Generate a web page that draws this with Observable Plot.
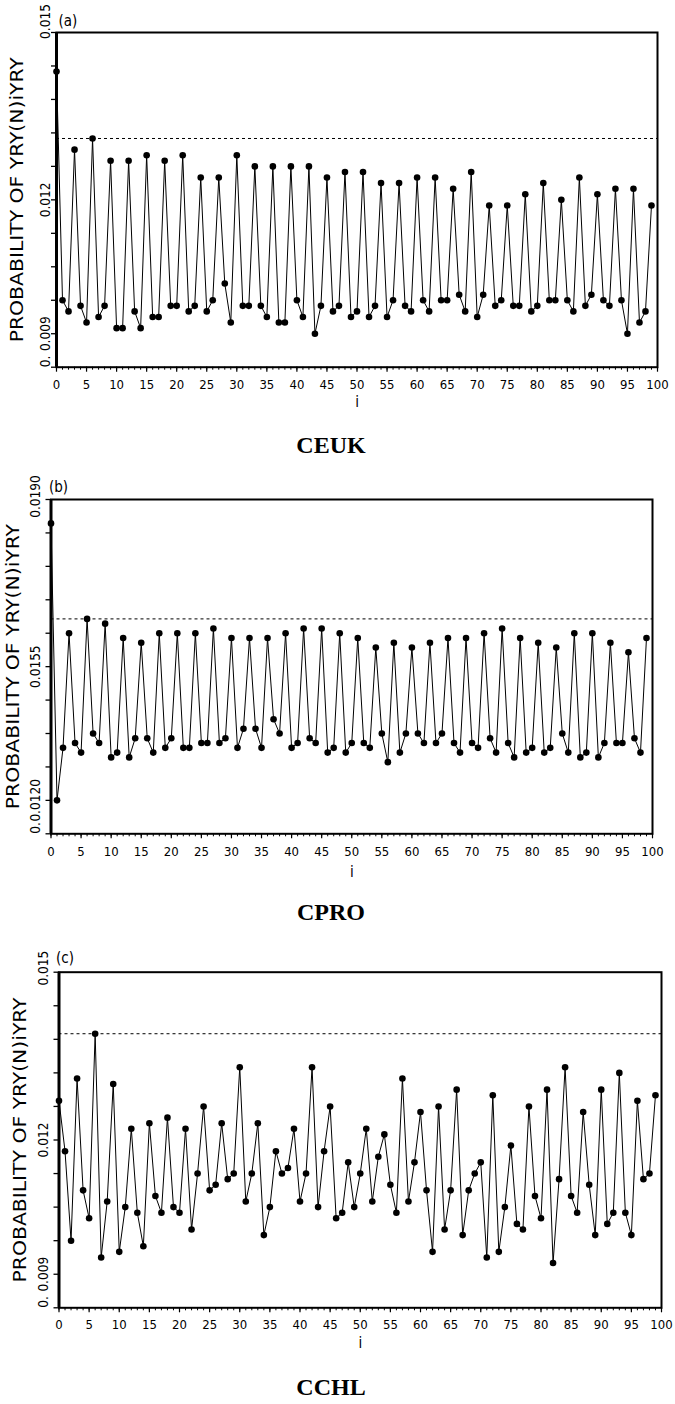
<!DOCTYPE html>
<html>
<head>
<meta charset="utf-8">
<script src="https://cdn.jsdelivr.net/npm/d3@7"></script>
<script src="https://cdn.jsdelivr.net/npm/@observablehq/plot@0.6"></script>
<style>
  html, body { margin: 0; padding: 0; background: #fff; }
  #page { position: relative; width: 675px; height: 1404px; background: #fff; overflow: hidden; }
  .panel { position: absolute; left: 0; }
  .caption { position: absolute; width: 200px; text-align: center; font-family: "Liberation Serif", "Times New Roman", serif; font-weight: bold; font-size: 24px; line-height: 24px; color: #000; }
</style>
</head>
<body>
<div id="page"></div>
<script>
// ---------------- data ----------------
const ceuk = [
  0.0143, 0.0102, 0.0100, 0.0129, 0.0101, 0.0098, 0.0131, 0.0099, 0.0101, 0.0127,
  0.0097, 0.0097, 0.0127, 0.0100, 0.0097, 0.0128, 0.0099, 0.0099, 0.0127, 0.0101,
  0.0101, 0.0128, 0.0100, 0.0101, 0.0124, 0.0100, 0.0102, 0.0124, 0.0105, 0.0098,
  0.0128, 0.0101, 0.0101, 0.0126, 0.0101, 0.0099, 0.0126, 0.0098, 0.0098, 0.0126,
  0.0102, 0.0099, 0.0126, 0.0096, 0.0101, 0.0124, 0.0100, 0.0101, 0.0125, 0.0099,
  0.0100, 0.0125, 0.0099, 0.0101, 0.0123, 0.0099, 0.0102, 0.0123, 0.0101, 0.0100,
  0.0124, 0.0102, 0.0100, 0.0124, 0.0102, 0.0102, 0.0122, 0.0103, 0.0100, 0.0125,
  0.0099, 0.0103, 0.0119, 0.0101, 0.0102, 0.0119, 0.0101, 0.0101, 0.0121, 0.0100,
  0.0101, 0.0123, 0.0102, 0.0102, 0.0120, 0.0102, 0.0100, 0.0124, 0.0101, 0.0103,
  0.0121, 0.0102, 0.0101, 0.0122, 0.0102, 0.0096, 0.0122, 0.0098, 0.0100, 0.0119
];
const cpro = [
  0.0185, 0.0127, 0.0138, 0.0162, 0.0139, 0.0137, 0.0165, 0.0141, 0.0139, 0.0164,
  0.0136, 0.0137, 0.0161, 0.0136, 0.0140, 0.0160, 0.0140, 0.0137, 0.0162, 0.0138,
  0.0140, 0.0162, 0.0138, 0.0138, 0.0162, 0.0139, 0.0139, 0.0163, 0.0139, 0.0140,
  0.0161, 0.0138, 0.0142, 0.0161, 0.0142, 0.0138, 0.0161, 0.0144, 0.0141, 0.0162,
  0.0138, 0.0139, 0.0163, 0.0140, 0.0139, 0.0163, 0.0137, 0.0138, 0.0162, 0.0137,
  0.0139, 0.0161, 0.0139, 0.0138, 0.0159, 0.0141, 0.0135, 0.0160, 0.0137, 0.0141,
  0.0159, 0.0141, 0.0139, 0.0160, 0.0139, 0.0141, 0.0161, 0.0139, 0.0137, 0.0161,
  0.0139, 0.0138, 0.0162, 0.0140, 0.0137, 0.0163, 0.0139, 0.0136, 0.0161, 0.0137,
  0.0138, 0.0160, 0.0137, 0.0138, 0.0159, 0.0141, 0.0137, 0.0162, 0.0136, 0.0137,
  0.0162, 0.0136, 0.0139, 0.0160, 0.0139, 0.0139, 0.0158, 0.0140, 0.0137, 0.0161
];
const cchl = [
  0.0127, 0.0118, 0.0102, 0.0131, 0.0111, 0.0106, 0.0139, 0.0099, 0.0109, 0.0130,
  0.0100, 0.0108, 0.0122, 0.0107, 0.0101, 0.0123, 0.0110, 0.0107, 0.0124, 0.0108,
  0.0107, 0.0122, 0.0104, 0.0114, 0.0126, 0.0111, 0.0112, 0.0123, 0.0113, 0.0114,
  0.0133, 0.0109, 0.0114, 0.0123, 0.0103, 0.0108, 0.0118, 0.0114, 0.0115, 0.0122,
  0.0109, 0.0114, 0.0133, 0.0108, 0.0118, 0.0126, 0.0106, 0.0107, 0.0116, 0.0108,
  0.0114, 0.0122, 0.0109, 0.0117, 0.0121, 0.0112, 0.0107, 0.0131, 0.0109, 0.0116,
  0.0125, 0.0111, 0.0100, 0.0126, 0.0104, 0.0111, 0.0129, 0.0103, 0.0111, 0.0114,
  0.0116, 0.0099, 0.0128, 0.0100, 0.0108, 0.0119, 0.0105, 0.0104, 0.0126, 0.0110,
  0.0106, 0.0129, 0.0098, 0.0113, 0.0133, 0.0110, 0.0107, 0.0125, 0.0112, 0.0103,
  0.0129, 0.0105, 0.0107, 0.0132, 0.0107, 0.0103, 0.0127, 0.0113, 0.0114, 0.0128
];

// reference (dashed) levels
const refA = 0.0131, refB = 0.0165, refC = 0.0139;

// axis domains and tick labels
const yDomainA = [0.009, 0.015], yDomainB = [0.012, 0.019], yDomainC = [0.009, 0.015];
const yLabelValsA = [0.015, 0.012, 0.0096, 0.009];
const yLabelTextA = ["0.015", "0.012", "0.009", "0."];
const yLabelValsB = [0.019, 0.0155, 0.0127, 0.012];
const yLabelTextB = ["0.0190", "0.0155", "0.0120", "0."];
const yLabelValsC = [0.015, 0.012, 0.0096, 0.009];
const yLabelTextC = ["0.015", "0.012", "0.009", "0."];
const xMajor = [0,5,10,15,20,25,30,35,40,45,50,55,60,65,70,75,80,85,90,95,100];
const panelTags = ["(a)", "(b)", "(c)"];
const captions = ["CEUK", "CPRO", "CCHL"];
const yTitle = "PROBABILITY OF YRY(N)iYRY";
const xTitle = "i";

// ---------------- drawing ----------------
const W = 675, H = 430;
const SANS = "'DejaVu Sans Condensed', 'DejaVu Sans', sans-serif";
const TITLE_LEN = 285;

const panels = [
  {vals: ceuk, ref: refA, dom: yDomainA, lv: yLabelValsA, lt: yLabelTextA, tag: panelTags[0], cap: captions[0],
   svgTop: 0, left: 56, right: 657, top: 32, bottom: 366.7,
   tagDx: 2, tagDy: -17, titleDx: -39, lblDx: -11, topLblDy: -11, xPad: 8, xTitleDy: 40, capY: 445},
  {vals: cpro, ref: refB, dom: yDomainB, lv: yLabelValsB, lt: yLabelTextB, tag: panelTags[1], cap: captions[1],
   svgTop: 460, left: 50.5, right: 652, top: 499, bottom: 833.3,
   tagDx: -2, tagDy: -18, titleDx: -38, lblDx: -15.5, topLblDy: -3, xPad: 8, xTitleDy: 43, capY: 911.5},
  {vals: cchl, ref: refC, dom: yDomainC, lv: yLabelValsC, lt: yLabelTextC, tag: panelTags[2], cap: captions[2],
   svgTop: 930, left: 58.5, right: 661, top: 971.7, bottom: 1307.3,
   tagDx: -3, tagDy: -20, titleDx: -38.5, lblDx: -15.5, topLblDy: -4, xPad: 6.5, xTitleDy: 40, capY: 1387}
];

const page = document.getElementById("page");

panels.forEach(p => {
  const data = p.vals.map((v, i) => ({i, v}));
  const step = (p.dom[1] - p.dom[0]) / 10;
  const yTicks = d3.range(11).map(k => p.dom[0] + k * step);
  const lab = p.lv.map((v, k) => ({v, t: p.lt[k], k}));
  const mid = lab.filter(d => d.k === 1 || d.k === 2);
  const topL = lab.filter(d => d.k === 0);
  const botL = lab.filter(d => d.k === 3);

  const chart = Plot.plot({
    width: W, height: H,
    marginLeft: p.left, marginRight: W - p.right,
    marginTop: p.top - p.svgTop, marginBottom: p.svgTop + H - p.bottom,
    x: {domain: [0, 100]},
    y: {domain: p.dom},
    style: {background: "white", color: "black", fontFamily: SANS, overflow: "visible"},
    marks: [
      Plot.axisX({ticks: d3.range(0, 101, 1), tickSize: 3, tickFormat: () => "", label: null, strokeWidth: 1}),
      Plot.axisX({ticks: xMajor, tickSize: 5, tickPadding: p.xPad, fontSize: 13, label: null, strokeWidth: 1.2}),
      Plot.axisY({ticks: yTicks, tickSize: 5, tickFormat: () => "", label: null, strokeWidth: 1.3}),
      Plot.text(mid, {y: "v", text: "t", frameAnchor: "left", dx: p.lblDx, rotate: -90, fontSize: 13.5, textAnchor: "middle"}),
      Plot.text(topL, {y: "v", text: "t", frameAnchor: "left", dx: p.lblDx, dy: p.topLblDy, rotate: -90, fontSize: 13.5, textAnchor: "middle"}),
      Plot.text(botL, {y: "v", text: "t", frameAnchor: "left", dx: p.lblDx, rotate: -90, fontSize: 13.5, textAnchor: "start"}),
      Plot.text([yTitle], {frameAnchor: "left", dx: p.titleDx, dy: TITLE_LEN / 2, rotate: -90, fontSize: 18, textAnchor: "start", className: "ytitle"}),
      Plot.text([xTitle], {x: 50, frameAnchor: "bottom", dy: p.xTitleDy, fontSize: 15}),
      Plot.text([p.tag], {frameAnchor: "top-left", dx: p.tagDx, dy: p.tagDy, textAnchor: "start", fontSize: 15}),
      Plot.ruleY([p.ref], {stroke: "black", strokeWidth: 1, strokeDasharray: "3,3"}),
      Plot.line(data, {x: "i", y: "v", stroke: "black", strokeWidth: 1}),
      Plot.dot(data, {x: "i", y: "v", r: 3.3, fill: "black", stroke: "none"}),
      Plot.frame({stroke: "black", strokeWidth: 2}),
      Plot.ruleX([0], {stroke: "black", strokeWidth: 3})
    ]
  });
  d3.select(chart).selectAll(".ytitle text")
    .attr("textLength", TITLE_LEN).attr("lengthAdjust", "spacingAndGlyphs");

  const wrap = document.createElement("div");
  wrap.className = "panel";
  wrap.style.top = p.svgTop + "px";
  wrap.appendChild(chart);
  page.appendChild(wrap);

  const cap = document.createElement("div");
  cap.className = "caption";
  cap.textContent = p.cap;
  cap.style.left = (331 - 100) + "px";
  cap.style.top = (p.capY - 12) + "px";
  page.appendChild(cap);
});
</script>
</body>
</html>
